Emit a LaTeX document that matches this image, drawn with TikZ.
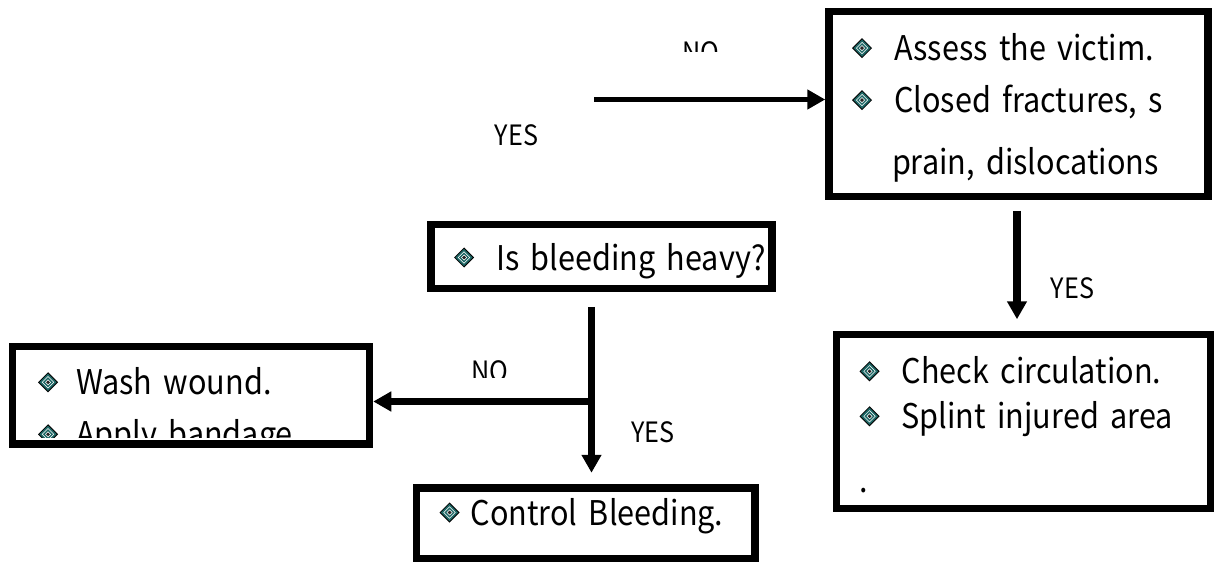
\documentclass[tikz,border=0pt]{standalone}
\usepackage{fontspec}
\setmainfont{Noto Sans CJK JP}[FakeStretch=0.9]
\usepackage{tikz}
\usetikzlibrary{
  arrows.meta,
  positioning,
  calc
}
\definecolor{bteal}{HTML}{1D6664}

% diamond bullet
\newcommand{\dbul}{\tikz[baseline=-12.5pt, x=1pt, y=1pt]{%
  \fill[black, rotate=45] (-7.1,-7.1) rectangle (7.1,7.1);
  \fill[bteal, rotate=45] (-6.1,-6.1) rectangle (6.1,6.1);
  \fill[white, rotate=45] (-4.3,-4.3) rectangle (4.3,4.3);
  \fill[bteal, rotate=45] (-3.6,-3.6) rectangle (3.6,3.6);
  \fill[white, rotate=45] (-2.1,-2.1) rectangle (2.1,2.1);
  \fill[black!85, rotate=45] (-1.4,-1.4) rectangle (1.4,1.4);}}
% one bullet line, never broken
\newcommand{\bline}[2][22pt]{\mbox{\dbul\hspace{#1}#2}}

\begin{document}
\begin{tikzpicture}[x=1pt, y=-1pt,
  box/.style={draw, line width=7.5pt, inner ysep=0pt, inner xsep=23pt,
              align=left, font=\fontsize{34}{52}\selectfont},
  lbl/.style={font=\fontsize{28}{30}\selectfont, inner sep=0pt, anchor=base},
  arr/.style={-{Triangle[length=18pt, width=19pt]}, line width=7pt},
]
  \useasboundingbox (0,0) rectangle (1216,562);

  % boxes
  \node[box, text width=333pt, minimum height=185pt] (assess) at (1018.5,104)
    {\rule{0pt}{35pt}\bline{Assess the victim.}\\
     \bline{Closed fractures, s}\\[10pt]
     \mbox{\hspace*{40pt}prain, dislocations}};
  \node[box, text width=295pt, minimum height=64pt, text height=34pt, text depth=7pt]
    (heavy) at (601.5,256.5) {\bline{Is bleeding heavy?}};
  \begin{scope}
    \clip (16.25,350.25) rectangle (365.75,437);
    \node[box, draw=none, text width=311pt] (washtxt) at (193.5,411.5)
      {\bline[18pt]{Wash wound.}\\
       \bline[18pt]{Apply bandage}};
  \end{scope}
  \node[box, minimum width=357pt, minimum height=97.5pt] (washbox) at (191,395.25) {};
  \node[box, text width=292.5pt, minimum height=71pt, text height=26pt, text depth=23pt]
    (ctrl) at (585.75,523.5) {\bline[11pt]{Control Bleeding.}};
  \node[box, text width=328pt, minimum height=174pt] (check) at (1023.5,421.5)
    {\rule{0pt}{34pt}\bline{Check circulation.}\\[-7pt]
     \bline{Splint injured area}\\[12pt]
     .};

  % connectors
  \coordinate (topstart) at (594,99.5);
  \draw[arr, line width=5.5pt] (topstart) -- (topstart -| assess.west);
  \draw[arr, line width=8pt] ([xshift=-1.5pt, yshift=-10.5pt]assess.south)
    -- ([xshift=-1.5pt, yshift=11.5pt]assess.south |- check.north);
  \coordinate (fork) at ([xshift=-10pt, yshift=-14.5pt]heavy.south);
  \coordinate (split) at (fork |- 0,401.5);
  \draw[arr] (fork) -- ([yshift=11.5pt]fork |- ctrl.north);
  \draw[arr] (split) -- (split -| washbox.east);

  % labels
  \begin{scope}
    \clip (600,20) rectangle (800,51);
    \node[lbl] (notop) at (700.5,62) {NO};
  \end{scope}
  \begin{scope}
    \clip (420,340) rectangle (560,377);
    \node[lbl] (nolow) at (490,381) {NO};
  \end{scope}
  \node[lbl] (yestop) at (516.5,145) {YES};
  \node[lbl] (yeslow) at (653,442) {YES};
  \node[lbl] (yesright) at (1072.5,298) {YES};
\end{tikzpicture}
\end{document}
